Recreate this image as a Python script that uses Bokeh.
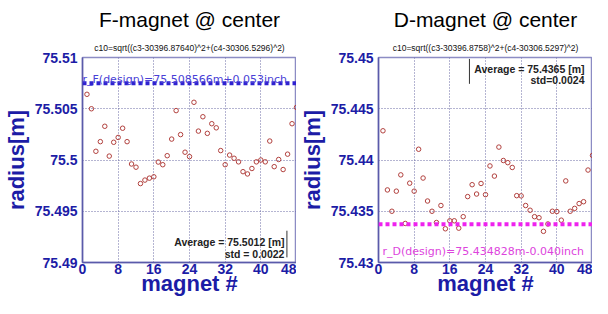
from bokeh.plotting import figure
from bokeh.models import FixedTicker, Label, Title, Span
from bokeh.layouts import row
from bokeh.embed import file_html
from bokeh.resources import INLINE

magnet = list(range(1, 49))

f_radius = [75.50641, 75.50500, 75.50085, 75.50179, 75.50329, 75.50038, 75.50173, 75.50220,
            75.50310, 75.50179, 75.49961, 75.49930, 75.49770, 75.49804, 75.49823, 75.49836,
            75.49980, 75.49954, 75.50042, 75.50204, 75.50482, 75.50248, 75.50076, 75.50033,
            75.50563, 75.50282, 75.50422, 75.50260, 75.50354, 75.50314, 75.50092, 75.49954,
            75.50048, 75.50017, 75.49982, 75.49886, 75.49864, 75.49917, 75.49982, 75.50000,
            75.49982, 75.50185, 75.49935, 75.50005, 75.49907, 75.50057, 75.50354, 75.50513]

d_radius = [75.44285, 75.43708, 75.43500, 75.43696, 75.43855, 75.43381, 75.43774, 75.43696,
            75.44105, 75.43824, 75.43600, 75.43500, 75.43390, 75.43556, 75.43329, 75.43407,
            75.43407, 75.43335, 75.43447, 75.43643, 75.43759, 75.43668, 75.43771, 75.43662,
            75.43942, 75.43843, 75.44126, 75.43995, 75.43974, 75.43927, 75.43652, 75.43650,
            75.43556, 75.43510, 75.43447, 75.43437, 75.43304, 75.43376, 75.43500, 75.43497,
            75.43413, 75.43796, 75.43500, 75.43528, 75.43575, 75.43593, 75.43902, 75.44045]

x_ticks = [0, 8, 16, 24, 32, 40, 48]
f_yticks = [75.49, 75.495, 75.5, 75.505, 75.51]
f_ylabels = ["75.49", "75.495", "75.5", "75.505", "75.51"]
d_yticks = [75.43, 75.435, 75.44, 75.445, 75.45]
d_ylabels = ["75.43", "75.435", "75.44", "75.445", "75.45"]

f_title = "F-magnet @ center"
f_sub = "c10=sqrt((c3-30396.87640)^2+(c4-30306.5296)^2)"
d_title = "D-magnet @ center"
d_sub = "c10=sqrt((c3-30396.8758)^2+(c4-30306.5297)^2)"

f_design = 75.5075
f_design_text = "r_F(design)=75.508566m+0.053inch"
d_design = 75.43372
d_design_text = "r_D(design)=75.434828m-0.040inch"

f_stats = ["Average = 75.5012 [m]", "std = 0.0022"]
d_stats = ["Average = 75.4365 [m]", "std=0.0024"]

AX = "#1c1ca6"
FONT = "Liberation Sans"


def make(title, sub, yticks, ylabels, yr, radius, left_border):
    p = figure(width=296, height=298, output_backend="svg", toolbar_location=None,
               x_range=(0, 48), y_range=yr,
               min_border_left=left_border, min_border_right=0,
               min_border_top=50, min_border_bottom=30)
    p.add_layout(Title(text=sub, text_font=FONT, text_font_size="8.5px",
                       text_font_style="normal", text_color="#111111", align="center"), "above")
    p.add_layout(Title(text=title, text_font=FONT, text_font_size="21px",
                       text_font_style="normal", text_color="#000000", align="center"), "above")
    p.xaxis.ticker = FixedTicker(ticks=x_ticks)
    p.yaxis.ticker = FixedTicker(ticks=yticks)
    p.yaxis.major_label_overrides = {t: l for t, l in zip(yticks, ylabels)}
    for ax in (p.xaxis[0], p.yaxis[0]):
        ax.major_label_text_font = FONT
        ax.major_label_text_font_size = "14px"
        ax.major_label_text_font_style = "bold"
        ax.major_label_text_color = AX
        ax.axis_label_text_font = FONT
        ax.axis_label_text_font_size = "22px"
        ax.axis_label_text_font_style = "bold"
        ax.axis_label_text_color = AX
        ax.axis_line_color = "#5a5aaa"
        ax.axis_line_width = 1.5
        ax.major_tick_line_color = None
        ax.minor_tick_line_color = None
        ax.major_tick_out = 0
        ax.major_tick_in = 0
        ax.minor_tick_out = 0
        ax.minor_tick_in = 0
    p.xaxis.axis_label = "magnet #"
    p.yaxis.axis_label = "radius[m]"
    p.xaxis.major_label_standoff = 1
    p.yaxis.major_label_standoff = 5
    p.xaxis.axis_label_standoff = -6
    p.yaxis.axis_label_standoff = 3
    p.outline_line_color = "#8c8cc4"
    p.outline_line_width = 1.5
    for g in (p.xgrid[0], p.ygrid[0]):
        g.grid_line_color = "#6a6aa4"
        g.grid_line_dash = "1 2"
        g.grid_line_width = 1
    p.scatter(magnet, radius, marker="circle", size=4.5, fill_color=None,
              line_color="#b2413e", line_width=1)
    return p


p1 = make(f_title, f_sub, f_yticks, f_ylabels, (75.49, 75.51), f_radius, 75)
p1.add_layout(Span(location=f_design, dimension="width", line_color="#2f22d0",
                   line_width=4, line_dash="4 3"))
p1.add_layout(Label(x=0, y=75.5079, text=f_design_text, text_font="DejaVu Sans",
                    text_font_size="11px", text_color="#4a3fd6", text_baseline="alphabetic"))
p1.add_layout(Label(x=45.3, y=75.49196, text=f_stats[0], text_font=FONT, text_font_size="10.5px",
                    text_font_style="bold", text_color="#222222", text_align="right",
                    text_baseline="alphabetic"))
p1.add_layout(Label(x=45.3, y=75.4908, text=f_stats[1], text_font=FONT, text_font_size="10.5px",
                    text_font_style="bold", text_color="#222222", text_align="right",
                    text_baseline="alphabetic"))
p1.segment(x0=[45.85], y0=[75.4905], x1=[45.85], y1=[75.4931], line_color="#333333", line_width=1)

p2 = make(d_title, d_sub, d_yticks, d_ylabels, (75.43, 75.45), d_radius, 77)
p2.add_layout(Span(location=d_design, dimension="width", line_color="#ee22ee",
                   line_width=4, line_dash="4 3"))
p2.add_layout(Label(x=0.9, y=75.43107, text=d_design_text, text_font="DejaVu Sans",
                    text_font_size="11px", text_color="#dd44dd", text_baseline="alphabetic"))
p2.add_layout(Label(x=46.2, y=75.44886, text=d_stats[0], text_font=FONT, text_font_size="10.5px",
                    text_font_style="bold", text_color="#222222", text_align="right",
                    text_baseline="alphabetic"))
p2.add_layout(Label(x=46.2, y=75.44778, text=d_stats[1], text_font=FONT, text_font_size="10.5px",
                    text_font_style="bold", text_color="#222222", text_align="right",
                    text_baseline="alphabetic"))
p2.segment(x0=[20.4], y0=[75.44743], x1=[20.4], y1=[75.44986], line_color="#333333", line_width=1)

layout = row(p1, p2)
open("out.html", "w").write(file_html(layout, INLINE))
